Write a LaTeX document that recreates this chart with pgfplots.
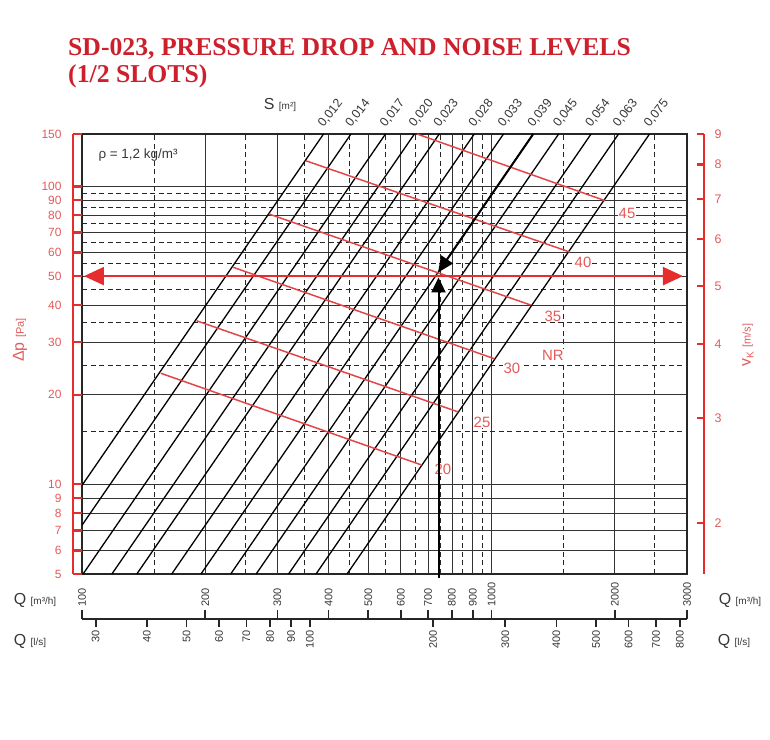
\documentclass[border=0pt]{standalone}
\usepackage{pgfplots}
\pgfplotsset{compat=1.18}
\usetikzlibrary{arrows.meta}
\usepackage{fontspec}
\setmainfont{Liberation Sans}
\newfontfamily\titlefont{Liberation Serif}

\definecolor{axred}{RGB}{230,45,45}
\definecolor{lblred}{RGB}{228,90,90}
\definecolor{nrred}{RGB}{226,70,70}
\definecolor{ttlred}{RGB}{205,32,45}
\definecolor{txt}{RGB}{55,55,55}

\newcommand{\fs}[1]{\fontsize{#1}{#1}\selectfont}

\begin{document}
\begin{tikzpicture}
\path[use as bounding box] (-82bp,-166bp) rectangle (688bp,574bp);

% title
\node[anchor=base west, inner sep=0, text=ttlred, font=\titlefont\bfseries\fs{25.8}] at (-14bp,518bp) {SD-023, PRESSURE DROP AND NOISE LEVELS};
\node[anchor=base west, inner sep=0, text=ttlred, font=\titlefont\bfseries\fs{25.8}] at (-14bp,491bp) {(1/2 SLOTS)};

% main chart
\begin{axis}[
    at={(0,0)}, anchor=south west, scale only axis,
    width=605bp, height=440bp,
    xmode=log, ymode=log,
    xmin=100, xmax=3000, ymin=5, ymax=150,
    xtick={100,200,300,400,500,600,700,800,900,1000,2000,3000},
    minor xtick={150,250,350,450,550,650,750,850,950,1500,2500},
    ytick={6,7,8,9,10,20,30,40,50,60,70,80,90,100},
    minor ytick={15,25,35,45,55,65,75,85,95},
    xticklabels={}, yticklabels={},
    major tick length=0, minor tick length=0,
    grid=both,
    major grid style={black!80, line width=0.8bp},
    minor grid style={black!85, line width=0.8bp, dash pattern=on 5bp off 3.5bp},
    axis line style={black!85, line width=1.2bp},
    clip=false,
]
% S lines (dp ~ Q^2)
\addplot[black, line width=1.3bp] coordinates {(100,9.92) (388.8,150)};
\addplot[black, line width=1.3bp] coordinates {(100,7.29) (453.6,150)};
\addplot[black, line width=1.3bp] coordinates {(100.6,5) (550.8,150)};
\addplot[black, line width=1.3bp] coordinates {(118.3,5) (648,150)};
\addplot[black, line width=1.3bp] coordinates {(136.1,5) (745.2,150)};
\addplot[black, line width=1.3bp] coordinates {(165.6,5) (907.2,150)};
\addplot[black, line width=1.3bp] coordinates {(195.2,5) (1069.2,150)};
\addplot[black, line width=1.3bp] coordinates {(230.7,5) (1263.6,150)};
\addplot[black, line width=1.3bp] coordinates {(266.2,5) (1458,150)};
\addplot[black, line width=1.3bp] coordinates {(319.4,5) (1749.6,150)};
\addplot[black, line width=1.3bp] coordinates {(372.7,5) (2041.2,150)};
\addplot[black, line width=1.3bp] coordinates {(443.7,5) (2430,150)};

% NR lines
\addplot[nrred, line width=1.5bp] coordinates {(155.7,23.6) (675.1,11.61)};
\addplot[nrred, line width=1.5bp] coordinates {(190.5,35.4) (829.1,17.5)};
\addplot[nrred, line width=1.5bp] coordinates {(234.1,53.5) (1016,26.4)};
\addplot[nrred, line width=1.5bp] coordinates {(286.1,80.8) (1245,40.0)};
\addplot[nrred, line width=1.5bp] coordinates {(351.7,122) (1554,60.2)};
\addplot[nrred, line width=1.5bp] coordinates {(657.5,150) (1892,89.6)};

% S labels
\tikzset{slab/.style={xshift=0bp, yshift=6bp, rotate=52, anchor=base west, inner sep=0, text=txt, font=\fs{12.5}}}
\node[slab] at (axis cs:388.8,150) {0,012};
\node[slab] at (axis cs:453.6,150) {0,014};
\node[slab] at (axis cs:550.8,150) {0,017};
\node[slab] at (axis cs:648,150) {0,020};
\node[slab] at (axis cs:745.2,150) {0,023};
\node[slab] at (axis cs:907.2,150) {0,028};
\node[slab] at (axis cs:1069.2,150) {0,033};
\node[slab] at (axis cs:1263.6,150) {0,039};
\node[slab] at (axis cs:1458,150) {0,045};
\node[slab] at (axis cs:1749.6,150) {0,054};
\node[slab] at (axis cs:2041.2,150) {0,063};
\node[slab] at (axis cs:2430,150) {0,075};

% NR labels
\tikzset{nrlab/.style={fill=white, inner sep=1bp, text=lblred, font=\fs{15}}}
\node[nrlab] at (axis cs:760.8,11.2) {20};
\node[nrlab] at (axis cs:947.5,16.2) {25};
\node[nrlab] at (axis cs:1121,24.6) {30};
\node[nrlab] at (axis cs:1412,36.7) {35};
\node[nrlab] at (axis cs:1672,55.8) {40};
\node[nrlab] at (axis cs:2141,81.4) {45};
\node[nrlab] at (axis cs:1412,27.2) {NR};

% example reading
\addplot[axred, line width=2bp, {Triangle[length=20bp,width=18bp]}-{Triangle[length=20bp,width=18bp]}] coordinates {(101.1,50) (2933,50)};
\addplot[black, line width=2bp, -{Triangle[length=15bp,width=14bp]}] coordinates {(742,4.85) (742,49.5)};
\addplot[black, line width=2bp, -{Triangle[length=16bp,width=14bp]}] coordinates {(1263.6,150) (740,51.4)};
\end{axis}

\node[anchor=west, text=txt, font=\fs{13.5}] at (13bp,419bp) {ρ = 1,2 kg/m³};
\node[text=txt, font=\fs{16}] at (198bp,469bp) {S \fs{10}[m²]};

% left pressure axis
\begin{axis}[
    at={(-9bp,0)}, anchor=south west, scale only axis,
    width=9bp, height=440bp,
    ymode=log, ymin=5, ymax=150, xmin=0, xmax=1,
    axis x line=none, axis y line*=left,
    ytick={5,6,7,8,9,10,20,30,40,50,60,70,80,90,100,150},
    yticklabels={5,6,7,8,9,10,20,30,40,50,60,70,80,90,100,150},
    tick align=inside, major tick length=9bp, minor tick length=0,
    axis line style={axred, line width=2.2bp},
    tick style={axred, line width=2.2bp},
    yticklabel style={text=lblred, font=\fs{12}, xshift=-8bp},
]
\end{axis}
\node[rotate=90, text=lblred, font=\fs{16}] at (-62bp,234bp) {Δp \fs{11}[Pa]};

% right velocity axis
\begin{axis}[
    at={(613bp,0)}, anchor=south west, scale only axis,
    width=9bp, height=440bp,
    ymode=log, ymin=1.6432, ymax=9, xmin=0, xmax=1,
    axis x line=none, axis y line*=right,
    ytick={2,3,4,5,6,7,8,9},
    yticklabels={2,3,4,5,6,7,8,9},
    tick align=inside, major tick length=7bp, minor tick length=0,
    axis line style={axred, line width=2.2bp},
    tick style={axred, line width=2.2bp},
    yticklabel style={text=lblred, font=\fs{12.5}, xshift=7bp},
]
\end{axis}
\node[rotate=90, text=lblred, font=\fs{16}] at (666bp,229bp) {v\raisebox{-3bp}{\fs{10}K} \fs{11}[m/s]};

% bottom flow axes
\begin{axis}[
    at={(0,-46bp)}, anchor=south west, scale only axis,
    width=605bp, height=1bp,
    xmode=log, xmin=100, xmax=3000, ymin=0, ymax=1,
    axis y line=none, axis x line*=top,
    xtick={100,200,300,400,500,600,700,800,900,1000,2000,3000},
    xticklabels={100,200,300,400,500,600,700,800,900,1000,2000,3000},
    tick align=outside, major tick length=9bp, minor tick length=0,
    axis line style={black!85, line width=1.6bp},
    tick style={black!85, line width=1.6bp},
    xticklabel style={rotate=90, anchor=west, text=txt, font=\fs{11}, xshift=0bp},
]
\end{axis}
\begin{axis}[
    at={(0,-45bp)}, anchor=south west, scale only axis,
    width=605bp, height=1bp,
    xmode=log, xmin=27.778, xmax=833.33, ymin=0, ymax=1,
    axis y line=none, axis x line*=bottom,
    xtick={30,40,50,60,70,80,90,100,200,300,400,500,600,700,800},
    xticklabels={30,40,50,60,70,80,90,100,200,300,400,500,600,700,800},
    tick align=outside, major tick length=8bp, minor tick length=0,
    axis line style={black!85, line width=1.6bp},
    tick style={black!85, line width=1.6bp},
    xticklabel style={rotate=90, anchor=east, text=txt, font=\fs{11}},
]
\end{axis}
\node[text=txt, font=\fs{16}] at (-47bp,-26bp) {Q \fs{10}[m³/h]};
\node[text=txt, font=\fs{16}] at (658bp,-26bp) {Q \fs{10}[m³/h]};
\node[text=txt, font=\fs{16}] at (-52bp,-67bp) {Q \fs{10}[l/s]};
\node[text=txt, font=\fs{16}] at (652bp,-67bp) {Q \fs{10}[l/s]};
\end{tikzpicture}
\end{document}
